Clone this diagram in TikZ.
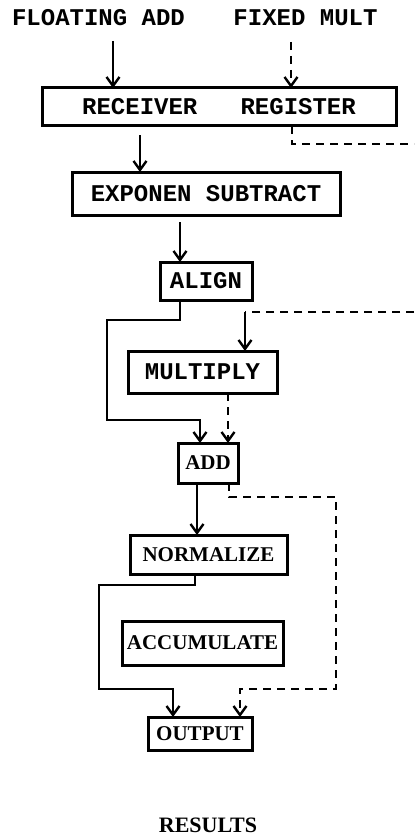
\documentclass[tikz,border=0pt]{standalone}
\usepackage{fontspec}
\setmainfont{Liberation Serif}
\setmonofont{Liberation Mono}
\usepackage{tikz}
\usetikzlibrary{arrows.meta,positioning}

\begin{document}
\begin{tikzpicture}[
node distance=24pt,
tbox/.style={draw, line width=1.5pt, inner sep=0pt, outer sep=0pt, font=\ttfamily\bfseries\fontsize{12}{14}\selectfont},
sbox/.style={draw, line width=1.5pt, inner sep=0pt, outer sep=0pt, font=\bfseries\fontsize{10.5}{12}\selectfont},
ttl/.style={inner sep=0pt, font=\ttfamily\bfseries\fontsize{12}{14}\selectfont},
arr/.style={-{Straight Barb[length=4.5pt,width=6.5pt]}, line width=1.2pt},
dline/.style={line width=1.2pt, dash pattern=on 4pt off 3pt}
]
\useasboundingbox (0,0) rectangle (207pt,-420pt);

% inputs
\node[ttl] (fadd) at (49.25pt,-9pt) {FLOATING ADD};
\node[ttl] (fmult) at (152.75pt,-9pt) {FIXED MULT};

% main column
\node[tbox, minimum width=177pt, minimum height=19pt] (recv) at (109.5pt,-53.5pt) {RECEIVER~~~REGISTER\hspace{10pt}};
\node[tbox, minimum width=134pt, minimum height=21.5pt, below=23pt of recv, xshift=-6.5pt] (expsub) {EXPONEN SUBTRACT};
\node[tbox, minimum width=46pt, minimum height=19pt, below=23.5pt of expsub] (align) {ALIGN};
\node[tbox, minimum width=74.5pt, minimum height=21pt, below=25.5pt of align, xshift=-1.75pt] (mult) {MULTIPLY};
\node[sbox, minimum width=30pt, minimum height=20pt, below=25pt of mult, xshift=2.75pt] (add) {ADD};
\node[sbox, minimum width=78.5pt, minimum height=19.5pt, below=26pt of add, xshift=0.25pt] (norm) {NORMALIZE};
\node[sbox, minimum width=80.5pt, minimum height=22pt, below=23.5pt of norm, xshift=-3pt] (accum) {ACCUMULATE};
\node[sbox, minimum width=52pt, minimum height=16.5pt, below=26pt of accum, xshift=-1.25pt] (outp) {OUTPUT};
\node[inner sep=0pt, font=\bfseries\fontsize{11}{13}\selectfont] (res) at (104pt,-412.5pt) {RESULTS};

% helper points
\coordinate (faIn) at (56.5pt,-20.5pt);
\coordinate (fmIn) at (145.5pt,-21pt);
\coordinate (regX) at (146pt,0);
\coordinate (regOut) at (207pt,-72pt);
\coordinate (expIn) at (70pt,-67.5pt);
\coordinate (alIn) at (90pt,-111pt);
\coordinate (alX) at (90pt,0);
\coordinate (alL1) at (53.5pt,-160pt);
\coordinate (alL2) at (100pt,-210pt);
\coordinate (alOut) at (207pt,-156pt);
\coordinate (mulIn) at (122.5pt,-156pt);
\coordinate (mulX) at (114pt,0);
\coordinate (addX) at (98.5pt,0);
\coordinate (addD) at (114.5pt,0);
\coordinate (addR1) at (168pt,-248.5pt);
\coordinate (addR2) at (120pt,-344.5pt);
\coordinate (nrmX) at (97.5pt,0);
\coordinate (nrmL1) at (49.5pt,-292.5pt);
\coordinate (nrmL2) at (86.5pt,-344.5pt);

% connectors
\draw[arr] (faIn) -- (faIn |- recv.north);
\draw[arr, dline] (fmIn) -- (fmIn |- recv.north);
\draw[dline] (regX |- recv.south) |- (regOut);
\draw[arr] (expIn) -- (expIn |- expsub.north);
\draw[arr] (alIn) -- (alIn |- align.north);
\draw[arr] (alX |- align.south) |- (alL1) |- (alL2) -- (alL2 |- add.north);
\draw[dline] (alOut) -- (mulIn);
\draw[arr] (mulIn) -- (mulIn |- mult.north);
\draw[arr, dline] (mulX |- mult.south) -- (mulX |- add.north);
\draw[arr] (addX |- add.south) -- (addX |- norm.north);
\draw[arr, dline] (addD |- add.south) |- (addR1) |- (addR2) -- (addR2 |- outp.north);
\draw[arr] (nrmX |- norm.south) |- (nrmL1) |- (nrmL2) -- (nrmL2 |- outp.north);

\end{tikzpicture}
\end{document}
